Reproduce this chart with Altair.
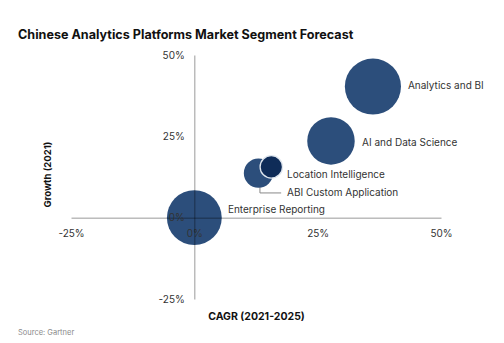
import altair as alt
import pandas as pd

# ---- data ----
segments = ["Enterprise Reporting", "Location Intelligence", "ABI Custom Application",
            "AI and Data Science", "Analytics and BI"]
cagr = [0.0, 13.0, 15.6, 27.7, 36.2]          # x, %
growth = [0.0, 13.7, 15.6, 23.6, 40.3]        # y, %
market_size = [8.4, 2.4, 1.4, 6.3, 8.8]       # relative bubble size (area)
label_x = [6.8, 18.8, 18.8, 34.0, 43.3]
label_y = [2.4, 13.1, 7.6, 23.0, 40.5]
highlight = ["no", "no", "yes", "no", "no"]

leader_x = [13.3, 13.3, 17.6]
leader_y = [10.6, 7.6, 7.6]

ticks = [-25, 0, 25, 50]

df = pd.DataFrame({
    "segment": segments, "cagr": cagr, "growth": growth, "size": market_size,
    "lx": label_x, "ly": label_y, "hl": highlight,
    "order": list(range(len(segments))),
})
leader = pd.DataFrame({"x": leader_x, "y": leader_y, "o": [0, 1, 2]})

W, H = 370, 244
FONT = "Inter"

xs = alt.Scale(domain=[-25, 50], nice=False, zero=False)
ys = alt.Scale(domain=[-25, 50], nice=False, zero=False)

x_axis = alt.Axis(
    orient="bottom", offset=-H * 25 / 75, values=ticks, labelExpr="datum.value + '%'",
    ticks=False, grid=False, domainColor="black", domainOpacity=0.4, domainWidth=1,
    labelPadding=11, labelFontSize=10, labelColor="#333", labelFont=FONT, labelFlush=False,
    title="CAGR (2021-2025)", titleX=185, titleY=99, titleBaseline="middle",
    titleAlign="center", titleAnchor="middle",
    titleFont=FONT, titleFontSize=10.5, titleFontWeight="bold", titleColor="#111",
    zindex=1,
)
y_axis = alt.Axis(
    orient="left", offset=-W * 25 / 75, values=ticks, labelExpr="datum.value + '%'",
    ticks=False, grid=False, domainColor="black", domainOpacity=0.4, domainWidth=1,
    labelPadding=10, labelFontSize=10, labelColor="#333", labelFont=FONT, labelFlush=False,
    title="Growth (2021)", titleX=-147, titleY=119, titleBaseline="middle",
    titleAlign="center", titleAnchor="middle", titleAngle=270,
    titleFont=FONT, titleFontSize=9.5, titleFontWeight="bold", titleColor="#111",
    zindex=1,
)

base = alt.Chart(df)

bubbles = base.mark_circle(opacity=1).encode(
    x=alt.X("cagr:Q", scale=xs, axis=x_axis),
    y=alt.Y("growth:Q", scale=ys, axis=y_axis),
    size=alt.Size("size:Q", scale=alt.Scale(type="linear", domain=[0, 8.8], range=[0, 3150]),
                  legend=None),
    color=alt.Color("hl:N", scale=alt.Scale(domain=["no", "yes"], range=["#2c4e7b", "#0f2c58"]),
                    legend=None),
    stroke=alt.Stroke("hl:N", scale=alt.Scale(domain=["no", "yes"], range=["#2c4e7b", "#dfe6ee"]),
                      legend=None),
    strokeWidth=alt.StrokeWidth("hl:N", scale=alt.Scale(domain=["no", "yes"], range=[0, 1.3]),
                                legend=None),
    order=alt.Order("order:Q"),
)

labels = base.mark_text(align="left", baseline="middle", font=FONT, fontSize=10,
                        color="#333").encode(
    x=alt.X("lx:Q", scale=xs),
    y=alt.Y("ly:Q", scale=ys),
    text="segment:N",
)

leader_line = alt.Chart(leader).mark_line(color="#888", strokeWidth=1).encode(
    x=alt.X("x:Q", scale=xs),
    y=alt.Y("y:Q", scale=ys),
    order="o:Q",
)

source = alt.Chart(pd.DataFrame({"t": ["Source: Gartner"]})).mark_text(
    align="left", baseline="middle", font=FONT, fontSize=7.5, color="#8a8a8a"
).encode(x=alt.value(-53), y=alt.value(278), text="t:N")

chart = alt.layer(leader_line, bubbles, labels, source).properties(
    width=W, height=H,
    autosize=alt.AutoSizeParams(type="none"),
    padding={"left": 71, "top": 55, "right": 63, "bottom": 44},
    title=alt.TitleParams(
        "Chinese Analytics Platforms Market Segment Forecast",
        anchor="start", frame="group", font=FONT, fontSize=12.6, fontWeight="bold",
        color="#111", dx=-53, dy=14, offset=16, baseline="middle",
    ),
).configure_view(stroke=None)

chart.save("out.html", embed_options={"renderer": "svg", "actions": False})
